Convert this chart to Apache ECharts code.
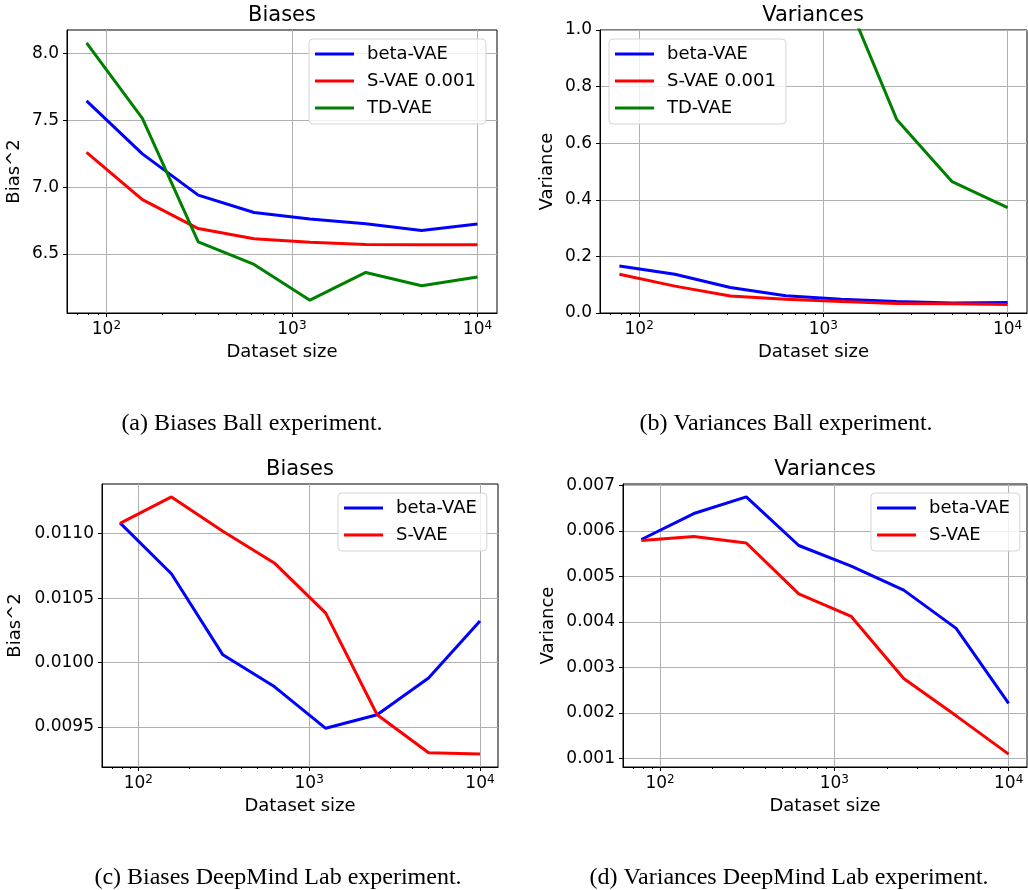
<!DOCTYPE html>
<html>
<head>
<meta charset="utf-8">
<script src="https://cdn.jsdelivr.net/npm/echarts@6/dist/echarts.min.js"></script>
<style>
  html, body { margin: 0; padding: 0; background: #fff; }
  #chart { width: 1028px; height: 890px; }
</style>
</head>
<body>
<div id="chart"></div>
<script>
  // dataset sizes (shared x values of all four panels)
  const sizes = [78.125, 156.25, 312.5, 625, 1250, 2500, 5000, 10000];

  // (a) Biases, Ball experiment
  const ballBiasBeta = [7.646, 7.249, 6.94, 6.81, 6.761, 6.726, 6.674, 6.724];
  const ballBiasSvae = [7.261, 6.906, 6.689, 6.612, 6.587, 6.57, 6.567, 6.567];
  const ballBiasTd = [8.082, 7.515, 6.59, 6.42, 6.152, 6.36, 6.26, 6.326];

  // (b) Variances, Ball experiment (TD-VAE goes off the top for small sizes)
  const ballVarBeta = [0.166, 0.137, 0.09, 0.061, 0.049, 0.041, 0.035, 0.037];
  const ballVarSvae = [0.137, 0.095, 0.06, 0.049, 0.041, 0.034, 0.033, 0.03];
  const ballVarTd = [null, null, null, null, 1.154, 0.684, 0.464, 0.372];

  // (c) Biases, DeepMind Lab
  const dmlBiasBeta = [0.011083, 0.010689, 0.01006, 0.009814, 0.00949, 0.009595, 0.009881, 0.010322];
  const dmlBiasSvae = [0.01108, 0.011285, 0.011018, 0.010773, 0.010384, 0.009595, 0.0093, 0.00929];

  // (d) Variances, DeepMind Lab
  const dmlVarBeta = [0.00581, 0.00638, 0.006746, 0.005678, 0.005224, 0.004697, 0.003857, 0.002211];
  const dmlVarSvae = [0.00579, 0.005877, 0.005732, 0.004616, 0.004119, 0.002754, 0.001935, 0.001094];

  // tick labels
  const xMajor = [100, 1000, 10000];
  const xMinor = [70, 80, 90, 200, 300, 400, 500, 600, 700, 800, 900,
    2000, 3000, 4000, 5000, 6000, 7000, 8000, 9000];
  const yTicksA = [6.5, 7.0, 7.5, 8.0];
  const yTicksB = [0.0, 0.2, 0.4, 0.6, 0.8, 1.0];
  const yTicksC = [0.0095, 0.0100, 0.0105, 0.0110];
  const yTicksD = [0.001, 0.002, 0.003, 0.004, 0.005, 0.006, 0.007];

  const FONT = 'DejaVu Sans';
  const SERIF = 'Liberation Serif';
  const BLUE = '#0000ff', RED = '#ff0000', GREEN = '#008000';

  const grids = [
    { left: 67, top: 30, width: 430, height: 283 },
    { left: 600, top: 30, width: 427, height: 283 },
    { left: 102, top: 484, width: 396, height: 283 },
    { left: 623, top: 484, width: 404, height: 283 }
  ];

  function pairs(ys) {
    return sizes.map((x, i) => [x, ys[i]]);
  }

  const supDigits = { 100: 2, 1000: 3, 10000: 4 };

  function xAxes(gi) {
    return [{
      type: 'log',
      logBase: 10,
      gridIndex: gi,
      min: 61.3,
      max: 12746,
      name: 'Dataset size',
      nameLocation: 'middle',
      nameGap: 30,
      nameTextStyle: { fontFamily: FONT, fontSize: 18, color: '#000' },
      axisLine: { show: true, lineStyle: { color: '#000', width: 1 } },
      axisTick: { show: true, length: 4, customValues: xMajor, lineStyle: { color: '#000' } },
      axisLabel: {
        customValues: xMajor,
        margin: 6,
        formatter: v => '{b|10}{s|' + supDigits[Math.round(v)] + '}',
        rich: {
          b: { fontFamily: FONT, fontSize: 17, color: '#000', lineHeight: 22 },
          s: { fontFamily: FONT, fontSize: 12, color: '#000', lineHeight: 22, padding: [0, 0, 9, 0] }
        }
      },
      splitLine: { show: true, lineStyle: { color: '#b0b0b0', width: 1 } }
    }, {
      // minor ticks at 2..9 x 10^k
      type: 'log',
      logBase: 10,
      gridIndex: gi,
      min: 61.3,
      max: 12746,
      position: 'bottom',
      axisLine: { show: false },
      axisTick: { show: true, length: 2, customValues: xMinor, lineStyle: { color: '#000' } },
      axisLabel: { show: false },
      splitLine: { show: false }
    }];
  }

  function yAxis(gi, min, max, ticks, digits, name, gap) {
    return {
      type: 'value',
      gridIndex: gi,
      min: min,
      max: max,
      name: name,
      nameLocation: 'middle',
      nameGap: gap,
      nameTextStyle: { fontFamily: FONT, fontSize: 18, color: '#000' },
      axisLine: { show: true, lineStyle: { color: '#000', width: 1 } },
      axisTick: { show: true, length: 4, customValues: ticks, lineStyle: { color: '#000' } },
      axisLabel: {
        customValues: ticks,
        margin: 8,
        fontFamily: FONT,
        fontSize: 17,
        color: '#000',
        formatter: v => v.toFixed(digits)
      },
      splitLine: { show: true, lineStyle: { color: '#b0b0b0', width: 1 } }
    };
  }

  function line(name, color, xi, yi, ys) {
    return {
      name: name,
      type: 'line',
      xAxisIndex: xi,
      yAxisIndex: yi,
      color: color,
      symbol: 'none',
      lineStyle: { width: 3, color: color },
      data: pairs(ys)
    };
  }

  function legend(left, top, names) {
    return {
      orient: 'vertical',
      left: left,
      top: top,
      data: names,
      icon: 'rect',
      itemWidth: 39,
      itemHeight: 3,
      itemGap: 7,
      padding: [5, 10, 6, 6],
      backgroundColor: 'rgba(255,255,255,0.8)',
      borderColor: '#d4d4d4',
      borderWidth: 1,
      borderRadius: 4,
      selectedMode: false,
      textStyle: { fontFamily: FONT, fontSize: 18, color: '#000', lineHeight: 20, padding: [0, 0, 0, 8] }
    };
  }

  function label(text, x, y, size, family) {
    return {
      type: 'text',
      x: x,
      y: y,
      style: {
        text: text,
        align: 'center',
        verticalAlign: 'middle',
        fontFamily: family,
        fontSize: size,
        fill: '#000'
      }
    };
  }

  const chart = echarts.init(document.getElementById('chart'), null, { renderer: 'canvas' });

  const option = {
    backgroundColor: '#fff',
    animation: false,
    grid: grids.map(g => Object.assign({ show: true, borderColor: '#000', borderWidth: 1, backgroundColor: 'transparent' }, g)),
    xAxis: [].concat(xAxes(0), xAxes(1), xAxes(2), xAxes(3)),
    yAxis: [
      yAxis(0, 6.056, 8.178, yTicksA, 1, 'Bias^2', 44),
      yAxis(1, 0, 1, yTicksB, 1, 'Variance', 44),
      yAxis(2, 0.00919, 0.011385, yTicksC, 4, 'Bias^2', 78),
      yAxis(3, 0.000811, 0.007029, yTicksD, 3, 'Variance', 66)
    ],
    legend: [
      legend(309, 39, ['beta-VAE', 'S-VAE 0.001', 'TD-VAE']),
      legend(609, 39, ['beta-VAE', 'S-VAE 0.001', 'TD-VAE']),
      legend(338, 493, ['beta-VAE', 'S-VAE']),
      legend(871, 493, ['beta-VAE', 'S-VAE'])
    ],
    series: [
      line('beta-VAE', BLUE, 0, 0, ballBiasBeta),
      line('S-VAE 0.001', RED, 0, 0, ballBiasSvae),
      line('TD-VAE', GREEN, 0, 0, ballBiasTd),
      line('beta-VAE', BLUE, 2, 1, ballVarBeta),
      line('S-VAE 0.001', RED, 2, 1, ballVarSvae),
      line('TD-VAE', GREEN, 2, 1, ballVarTd),
      line('beta-VAE', BLUE, 4, 2, dmlBiasBeta),
      line('S-VAE', RED, 4, 2, dmlBiasSvae),
      line('beta-VAE', BLUE, 6, 3, dmlVarBeta),
      line('S-VAE', RED, 6, 3, dmlVarSvae)
    ],
    graphic: [
      label('Biases', 282, 16, 21, FONT),
      label('Variances', 813, 16, 21, FONT),
      label('Biases', 300, 470, 21, FONT),
      label('Variances', 825, 470, 21, FONT),
      label('(a) Biases Ball experiment.', 252, 424, 24, SERIF),
      label('(b) Variances Ball experiment.', 786, 424, 24, SERIF),
      label('(c) Biases DeepMind Lab experiment.', 278, 878, 24, SERIF),
      label('(d) Variances DeepMind Lab experiment.', 789, 878, 24, SERIF)
    ]
  };

  chart.setOption(option);
</script>
</body>
</html>
